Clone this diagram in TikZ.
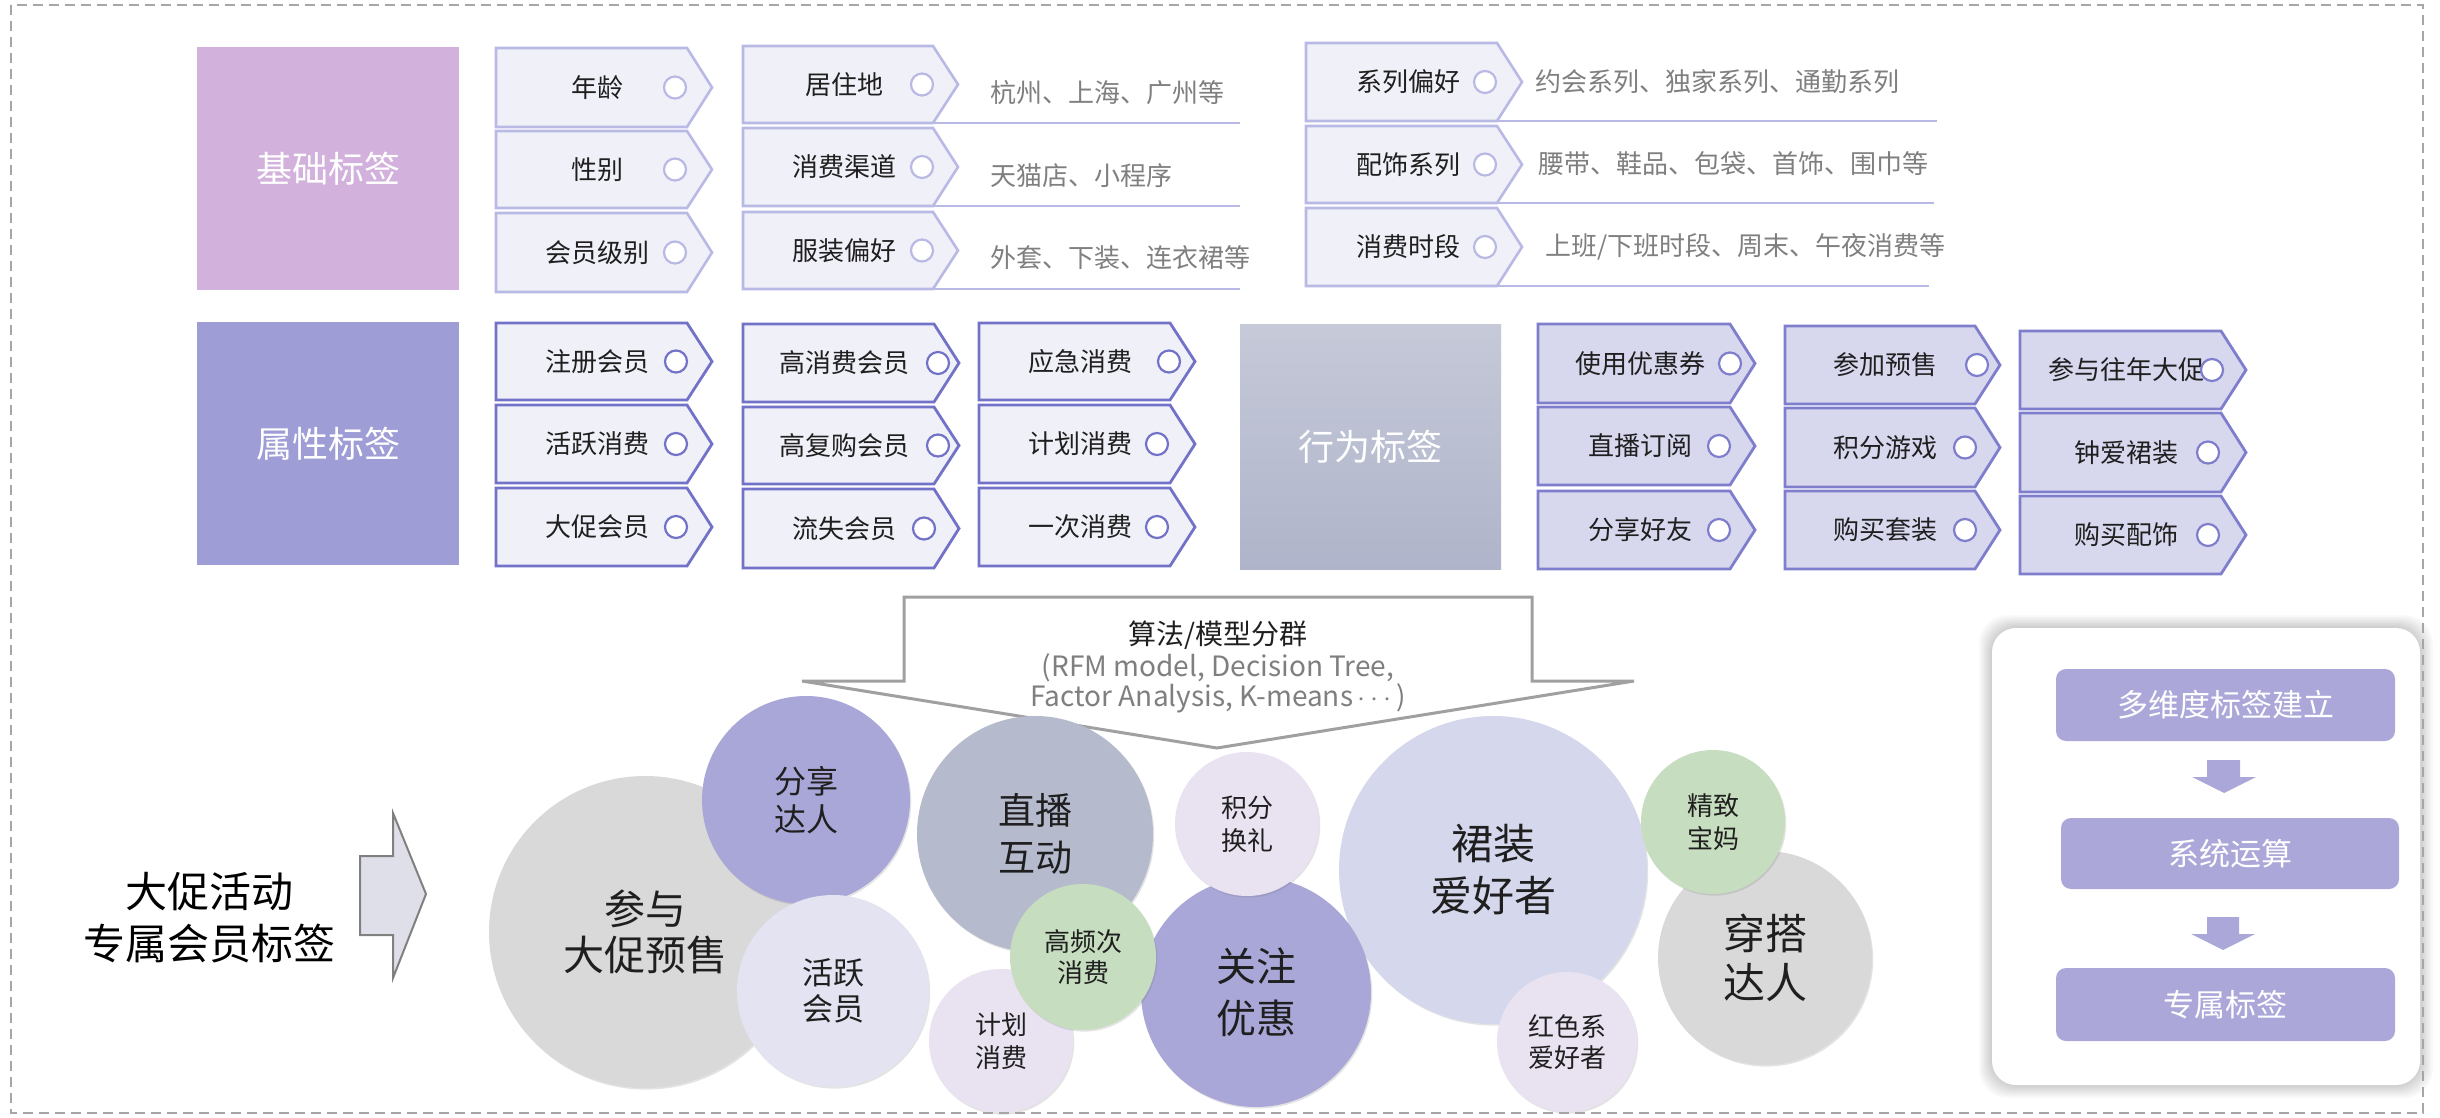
\documentclass[tikz,border=0pt]{standalone}
\usepackage{fontspec}
\setmainfont{Noto Sans CJK SC}
\usetikzlibrary{shadows}
\definecolor{hdrA}{HTML}{D2B2DC}
\definecolor{hdrB}{HTML}{9E9DD6}
\definecolor{hdrCtop}{HTML}{C5C9D8}
\definecolor{hdrCbot}{HTML}{AFB4CA}
\definecolor{tfA}{HTML}{F0F0F8}
\definecolor{tdA}{HTML}{B9B9E6}
\definecolor{tfB}{HTML}{F0F0F8}
\definecolor{tdB}{HTML}{7272C8}
\definecolor{tfC}{HTML}{D7D7EE}
\definecolor{tdC}{HTML}{7E7ECC}
\definecolor{desc}{HTML}{7F7F7F}
\definecolor{cGray}{HTML}{D9D9D9}
\definecolor{cPurple}{HTML}{A9A7D8}
\definecolor{cLav}{HTML}{E3E3F2}
\definecolor{cBlue}{HTML}{B5BACD}
\definecolor{cGreen}{HTML}{C6DEBF}
\definecolor{cPink}{HTML}{E9E2F0}
\definecolor{cSkirt}{HTML}{D5D7EC}
\definecolor{boxP}{HTML}{ABA8D9}
\definecolor{callout}{HTML}{A0A0A0}
\definecolor{border}{HTML}{A6A6A6}
\newcommand{\fsz}[2]{\fontsize{#1}{#2}\selectfont}
\newcommand{\tagbox}[9]{%
  \draw[#2 tag] (#3,#4) -- (#5,#4) -- ({#5+25},{(#4+#6)/2}) -- (#5,#6) -- (#3,#6) -- cycle;
  \node[tagtext] (#1) at (#7,{(#4+#6)/2}) {#9};
  \node[#2 dot] (#1-dot) at (#8,{(#4+#6)/2}) {};
}
\begin{document}
\begin{tikzpicture}[x=0.5pt,y=-0.5pt,
  basic tag/.style={fill=tfA, draw=tdA, line width=1.3pt},
  attr tag/.style={fill=tfB, draw=tdB, line width=1.4pt},
  behav tag/.style={fill=tfC, draw=tdC, line width=1.4pt},
  basic dot/.style={circle, draw=tdA, fill=white, line width=1.1pt, minimum size=11pt, inner sep=0},
  attr dot/.style={circle, draw=tdB, fill=white, line width=1.1pt, minimum size=11pt, inner sep=0},
  behav dot/.style={circle, draw=tdC, fill=white, line width=1.1pt, minimum size=11pt, inner sep=0},
  tagtext/.style={font=\fsz{13}{15}, text=black!88, inner sep=0},
  desctext/.style={font=\fsz{13}{15}, text=desc, anchor=west, inner sep=0},
  uline/.style={draw=tdA, line width=1.2pt},
  hdr/.style={inner sep=0, text=white, font=\fsz{18}{20}},
  bub/.style={circle, inner sep=0, align=center, text=black!88,
    drop shadow={shadow xshift=0.6pt, shadow yshift=-0.8pt, opacity=0.18, fill=black!60}},
  pbox/.style={fill=boxP, rounded corners=5pt, inner sep=0, text=white, font=\fsz{15.5}{18}},
  parrow/.style={fill=boxP},
]
\useasboundingbox (0,0) rectangle (2440,1118);
\fill[white] (0,0) rectangle (2440,1118);

% ---------- header boxes ----------
\node[hdr, fill=hdrA, minimum width=131pt, minimum height=121.5pt] (basic) at (328,168.5) {基础标签};
\node[hdr, fill=hdrB, minimum width=131pt, minimum height=121.5pt] (attr) at (328,443.5) {属性标签};
\node[hdr, top color=hdrCtop, bottom color=hdrCbot, minimum width=130.5pt, minimum height=122.5pt] (behav) at (1370.5,446.5) {行为标签};

% ---------- basic tags ----------
\draw[uline] (933,123) -- (1240,123);
\draw[uline] (933,206) -- (1240,206);
\draw[uline] (933,289) -- (1240,289);
\draw[uline] (1497,121) -- (1937,121);
\draw[uline] (1497,203) -- (1934,203);
\draw[uline] (1497,286) -- (1929,286);

\tagbox{b11}{basic}{496}{48}{687}{127}{597}{675}{年龄}
\tagbox{b12}{basic}{496}{131}{687}{208}{597}{675}{性别}
\tagbox{b13}{basic}{496}{213}{687}{292}{597}{675}{会员级别}
\tagbox{b21}{basic}{743}{46}{933}{123}{844}{922}{居住地}
\tagbox{b22}{basic}{743}{128}{933}{206}{844}{922}{消费渠道}
\tagbox{b23}{basic}{743}{212}{933}{289}{844}{922}{服装偏好}
\tagbox{b31}{basic}{1306}{43}{1497}{121}{1408}{1485}{系列偏好}
\tagbox{b32}{basic}{1306}{126}{1497}{203}{1408}{1485}{配饰系列}
\tagbox{b33}{basic}{1306}{208}{1497}{286}{1408}{1485}{消费时段}

\node[desctext] (d21) at (990,93) {杭州、上海、广州等};
\node[desctext] (d22) at (990,176) {天猫店、小程序};
\node[desctext] (d23) at (990,258) {外套、下装、连衣裙等};
\node[desctext] (d31) at (1535,82) {约会系列、独家系列、通勤系列};
\node[desctext] (d32) at (1538,164) {腰带、鞋品、包袋、首饰、围巾等};
\node[desctext] (d33) at (1545,247) {上班/下班时段、周末、午夜消费等};

% ---------- attribute tags ----------
\tagbox{a11}{attr}{496}{323}{687}{400}{597}{676}{注册会员}
\tagbox{a12}{attr}{496}{405}{687}{483}{597}{676}{活跃消费}
\tagbox{a13}{attr}{496}{488}{687}{566}{597}{676}{大促会员}
\tagbox{a21}{attr}{743}{324}{934}{402}{844}{938}{高消费会员}
\tagbox{a22}{attr}{743}{407}{934}{484}{844}{938}{高复购会员}
\tagbox{a23}{attr}{743}{489}{934}{568}{844}{924}{流失会员}
\tagbox{a31}{attr}{979}{323}{1170}{400}{1080}{1169}{应急消费}
\tagbox{a32}{attr}{979}{405}{1170}{483}{1080}{1157}{计划消费}
\tagbox{a33}{attr}{979}{488}{1170}{566}{1080}{1157}{一次消费}

% ---------- behaviour tags ----------
\tagbox{c11}{behav}{1538}{324}{1730}{403}{1640}{1730}{使用优惠券}
\tagbox{c12}{behav}{1538}{407}{1730}{485}{1640}{1719}{直播订阅}
\tagbox{c13}{behav}{1538}{491}{1730}{569}{1640}{1719}{分享好友}
\tagbox{c21}{behav}{1785}{326}{1975}{404}{1885}{1977}{参加预售}
\tagbox{c22}{behav}{1785}{408}{1975}{487}{1885}{1965}{积分游戏}
\tagbox{c23}{behav}{1785}{491}{1975}{569}{1885}{1965}{购买套装}
\tagbox{c31}{behav}{2020}{331}{2221}{409}{2126}{2212}{参与往年大促}
\tagbox{c32}{behav}{2020}{413}{2221}{492}{2126}{2208}{钟爱裙装}
\tagbox{c33}{behav}{2020}{496}{2221}{574}{2126}{2208}{购买配饰}

% ---------- callout ----------
\draw[callout, line width=1.5pt, line join=miter] (904,597) -- (1532,597) -- (1532,681) -- (1634,681)
  -- (1217,748) -- (802,681) -- (904,681) -- cycle;
\node[inner sep=0, font=\fsz{14}{16}, text=black!88] (algo) at (1218,635) {算法/模型分群};
\node[inner sep=0, font=\fsz{14}{15}, text=desc, align=center] (algosub) at (1218,683)
  {(RFM model, Decision Tree,\\Factor Analysis, K-means\,$\cdots$\,)};

% ---------- left label and arrow ----------
\node[inner sep=0, align=center, font=\fsz{21}{26}, text=black] (promo) at (209,918) {大促活动\\专属会员标签};
\draw[fill=black!9!white!96!blue, draw=black!50, line width=1pt, line join=miter]
  (360,856) -- (393,856) -- (393,813) -- (426,894) -- (393,978) -- (393,935) -- (360,935) -- cycle;

% ---------- bubbles ----------
\node[bub, fill=cGray, minimum size=156pt, font=\fsz{20.5}{23}] (canyu) at (645,932) {参与\\大促预售};
\node[bub, fill=cPurple, minimum size=104pt, font=\fsz{16}{19}] (fenxiang) at (806,800) {分享\\达人};
\node[bub, fill=cLav, minimum size=96pt, font=\fsz{15.5}{18}] (huoyue) at (833,991) {活跃\\会员};
\node[bub, fill=cBlue, minimum size=118pt, font=\fsz{18.5}{23.5}] (zhibo) at (1035,834) {直播\\互动};
\node[bub, fill=cPink, minimum size=72pt, font=\fsz{13}{16.5}] (jihua) at (1001,1041) {计划\\消费};
\node[bub, fill=cSkirt, minimum size=154pt, font=\fsz{21}{26}] (qunzhuang) at (1493,870) {裙装\\爱好者};
\node[bub, fill=cPurple, minimum size=115pt, font=\fsz{20}{26}] (guanzhu) at (1256,992) {关注\\优惠};
\node[bub, fill=cGreen, minimum size=73pt, font=\fsz{13}{15.5}] (gaopin) at (1083,957) {高频次\\消费};
\node[bub, fill=cPink, minimum size=72pt, font=\fsz{13}{16.5}] (jifen) at (1247,824) {积分\\换礼};
\node[bub, fill=cGray, minimum size=107pt, font=\fsz{21}{24.5}] (chuanda) at (1765,958) {穿搭\\达人};
\node[bub, fill=cGreen, minimum size=72pt, font=\fsz{13}{16.5}] (jingzhi) at (1713,822) {精致\\宝妈};
\node[bub, fill=cPink, minimum size=70pt, font=\fsz{13}{15.5}] (hongse) at (1567,1042) {红色系\\爱好者};

% ---------- right panel ----------
\foreach \i in {1,...,8}
  \fill[black, opacity=0.022, rounded corners=14pt] ({1992-1.6*\i},{628-1.6*\i}) rectangle ({2420+1.6*\i},{1085+1.6*\i});
\fill[white, rounded corners=12pt] (1992,628) rectangle (2420,1085);
\node[pbox, minimum width=169.5pt, minimum height=36pt] (p1) at (2225.5,705) {多维度标签建立};
\node[pbox, minimum width=169pt, minimum height=35.5pt] (p2) at (2230,853.5) {系统运算};
\node[pbox, minimum width=169.5pt, minimum height=36.5pt] (p3) at (2225.5,1004.5) {专属标签};
\fill[parrow] (2207,760) -- (2240,760) -- (2240,777) -- (2256,777) -- (2224,793) -- (2192,777) -- (2207,777) -- cycle;
\fill[parrow] (2207,917) -- (2239,917) -- (2239,934) -- (2255,934) -- (2223,950) -- (2191,934) -- (2207,934) -- cycle;

% ---------- dashed frame ----------
\draw[border, line width=0.8pt, dash pattern=on 5pt off 3pt] (11,5) rectangle (2423,1113);
\end{tikzpicture}
\end{document}
